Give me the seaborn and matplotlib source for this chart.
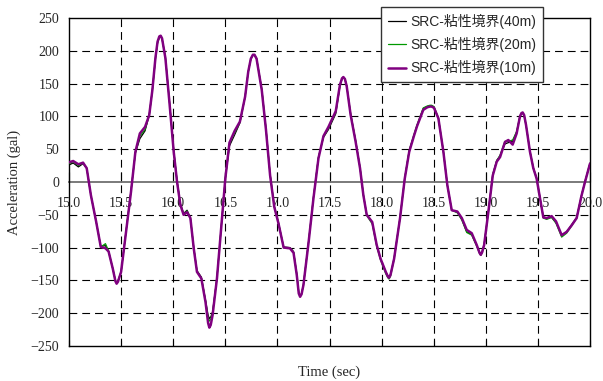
import matplotlib
matplotlib.use("Agg")
import matplotlib.pyplot as plt
from matplotlib.font_manager import FontProperties
import seaborn as sns
import pandas as pd

# ---------------- data ----------------
time_s = [15.00, 15.04, 15.09, 15.135, 15.17, 15.21, 15.26, 15.305, 15.35, 15.38,
          15.42, 15.445, 15.457, 15.47, 15.50, 15.547, 15.595, 15.637, 15.68, 15.73, 15.77, 15.80,
          15.83, 15.85, 15.867, 15.88, 15.893, 15.925, 15.963, 16.005, 16.037, 16.069, 16.10, 16.133,
          16.165, 16.197, 16.228, 16.27, 16.31, 16.335, 16.347, 16.36, 16.378, 16.42, 16.468, 16.50,
          16.54, 16.59, 16.64, 16.69, 16.72, 16.745, 16.765, 16.78, 16.80, 16.85, 16.89, 16.93,
          16.97, 17.01, 17.06, 17.12, 17.155, 17.186, 17.205, 17.218, 17.232, 17.25, 17.30, 17.346,
          17.394, 17.442, 17.49, 17.56, 17.60, 17.62, 17.633, 17.648, 17.665, 17.703, 17.75, 17.793,
          17.825, 17.857, 17.91, 17.953, 17.99, 18.04, 18.06, 18.071, 18.085, 18.12, 18.177, 18.222,
          18.265, 18.31, 18.34, 18.40, 18.44, 18.465, 18.48, 18.503, 18.545, 18.593, 18.631, 18.673,
          18.727, 18.77, 18.817, 18.865, 18.913, 18.94, 18.952, 18.965, 18.984, 19.025, 19.067, 19.105,
          19.137, 19.184, 19.216, 19.258, 19.296, 19.328, 19.342, 19.354, 19.368, 19.386, 19.424, 19.456,
          19.488, 19.52, 19.552, 19.584, 19.632, 19.674, 19.728, 19.776, 19.824, 19.872,
          19.92, 19.952, 20.0]

acc_40m = [26, 29, 23, 28, 21, -20, -60, -98, -97, -106,
           -132, -150, -153, -151, -137, -76, -13, 44, 66, 78, 102, 140,
           188, 212, 220, 221, 218, 190, 125, 48, 2, -33, -48, -43,
           -55, -100, -135, -145, -180, -203, -208, -206, -198, -146, -55, 5,
           55, 72, 90, 130, 168, 187, 193, 193, 188, 142, 82, 12,
           -37, -62, -99, -100, -106, -140, -168, -173, -170, -156, -90, -23,
           38, 68, 80, 104, 146, 157, 159, 157, 147, 104, 64, 22,
           -19, -49, -62, -96, -117, -137, -143, -144, -141, -116, -54, 6,
           48, 71, 86, 112, 115, 116, 116, 114, 97, 46, -5, -43,
           -46, -57, -76, -80, -97, -107, -110, -106, -95, -44, 12, 33,
           40, 58, 60, 62, 76, 100, 104, 105, 101, 87, 47, 22,
           6, -24, -53, -55, -54, -62, -81, -76, -65, -54,
           -19, 1, 29]

acc_20m = [28, 31, 25, 29, 21, -20, -60, -99, -94, -105,
           -132, -150, -154, -151, -137, -76, -14, 45, 70, 80, 102, 140,
           189, 213, 221, 222, 219, 190, 124, 47, 1, -34, -49, -44,
           -55, -100, -136, -146, -181, -207, -212, -209, -200, -146, -55, 5,
           58, 75, 91, 130, 168, 188, 194, 194, 189, 141, 81, 11,
           -37, -62, -100, -100, -107, -141, -169, -174, -171, -157, -90, -24,
           37, 69, 82, 106, 147, 158, 160, 157, 146, 103, 63, 22,
           -20, -51, -64, -98, -119, -140, -146, -148, -144, -118, -55, 5,
           48, 72, 87, 113, 116, 117, 117, 115, 98, 47, -4, -43,
           -47, -58, -77, -81, -98, -109, -112, -108, -96, -45, 11, 32,
           41, 62, 62, 64, 77, 101, 105, 106, 102, 87, 46, 21,
           5, -25, -55, -57, -54, -63, -84, -78, -67, -55,
           -20, 0, 28]

acc_10m = [30, 32, 27, 29.5, 21, -20, -60, -99, -101, -106,
           -132, -151, -155, -152, -137, -76, -15, 46, 74, 84, 102, 140,
           190, 214, 222, 223, 219, 189, 123, 46, 0, -35, -50, -46,
           -55, -101, -137, -147, -183, -215, -222, -218, -203, -147, -55, 5,
           60, 78, 92, 130, 168, 188, 194, 194, 188, 140, 80, 10,
           -38, -63, -100, -101, -108, -142, -170, -175, -171, -157, -91, -25,
           36, 70, 84, 108, 148, 158, 160, 157, 146, 102, 62, 21,
           -20, -50, -61, -96, -117, -137, -144, -146, -142, -117, -55, 5,
           46, 70, 85, 110, 114, 115, 115, 113, 97, 46, -5, -43,
           -45, -55, -73, -78, -96, -108, -111, -107, -96, -45, 10, 31,
           38, 61, 64, 57, 74, 100, 105, 106, 102, 87, 46, 21,
           5, -25, -54, -55, -52, -60, -81, -76, -66, -55,
           -20, 0, 28]

series_names = ["SRC-粘性境界(40m)", "SRC-粘性境界(20m)", "SRC-粘性境界(10m)"]
series_vals = [acc_40m, acc_20m, acc_10m]
series_colors = ["#000000", "#009900", "#800080"]
series_widths = [0.9, 0.9, 1.8]

x_ticks = [15.0, 15.5, 16.0, 16.5, 17.0, 17.5, 18.0, 18.5, 19.0, 19.5, 20.0]
x_ticklabels = ["15.0", "15.5", "16.0", "16.5", "17.0", "17.5", "18.0", "18.5", "19.0", "19.5", "20.0"]
y_ticks = [-250, -200, -150, -100, -50, 0, 50, 100, 150, 200, 250]

# ---------------- figure ----------------
sns.set_style("white")
plt.rcParams["font.family"] = ["Liberation Serif", "DejaVu Serif"]

fig = plt.figure(figsize=(6.03, 3.81), dpi=100)
ax = fig.add_axes([69 / 603, 1 - 346 / 381, (590 - 69) / 603, (346 - 18) / 381])

rows = []
for name, vals in zip(series_names, series_vals):
    for t, v in zip(time_s, vals):
        rows.append({"time": t, "acc": v, "series": name})
df = pd.DataFrame(rows)

for name, col, lw in zip(series_names, series_colors, series_widths):
    sns.lineplot(data=df[df["series"] == name], x="time", y="acc", ax=ax,
                 color=col, linewidth=lw, label=name, zorder=5 + lw,
                 solid_joinstyle="round", solid_capstyle="round")

ax.set_xlim(15.0, 20.0)
ax.set_ylim(-250, 250)

# grid
for xv in x_ticks[1:-1]:
    ax.axvline(xv, color="black", lw=0.8, dashes=(7, 4.5), zorder=1)
for yv in y_ticks[1:-1]:
    if yv != 0:
        ax.axhline(yv, color="black", lw=0.8, dashes=(7, 4.5), zorder=1)

# spines
for s in ["left", "right", "top"]:
    ax.spines[s].set_visible(True)
    ax.spines[s].set_color("black")
    ax.spines[s].set_linewidth(1.0)
ax.spines["bottom"].set_position(("data", 0))
ax.spines["bottom"].set_color("#707070")
ax.spines["bottom"].set_linewidth(1.3)
ax.spines["bottom"].set_zorder(2)

# bottom frame line with inward ticks
sec = ax.secondary_xaxis(0.0)
sec.set_xticks(x_ticks)
sec.set_xticklabels([])
sec.tick_params(direction="in", length=4, width=0.8, color="black")
sec.spines["bottom"].set_color("black")
sec.spines["bottom"].set_linewidth(1.0)

ax.set_xticks(x_ticks)
ax.set_xticklabels(x_ticklabels)
ax.tick_params(axis="x", direction="in", length=7, width=0.8, color="black",
               labelsize=10, pad=11, bottom=True)
ax.set_yticks(y_ticks)
ax.tick_params(axis="y", length=0, labelsize=10, pad=7, left=True)

ax.set_xlabel("Time (sec)", fontsize=10.5)
ax.xaxis.set_label_coords(0.5, -0.06)
ax.set_ylabel("Acceleration (gal)", fontsize=10.5)
ax.yaxis.set_label_coords(-0.093, 0.5)

leg_font = FontProperties(family=["Liberation Sans", "Noto Sans CJK JP"], size=10)
leg = ax.legend(loc="upper left", bbox_to_anchor=(0.599, 1.034), borderaxespad=0,
                prop=leg_font, frameon=True, fancybox=False, handlelength=1.3,
                handletextpad=0.3, borderpad=0.5, labelspacing=0.6)
leg.get_frame().set_edgecolor("#333333")
leg.get_frame().set_linewidth(1.0)
leg.get_frame().set_alpha(1)
leg.set_zorder(20)

fig.savefig("out.png", dpi=100)
